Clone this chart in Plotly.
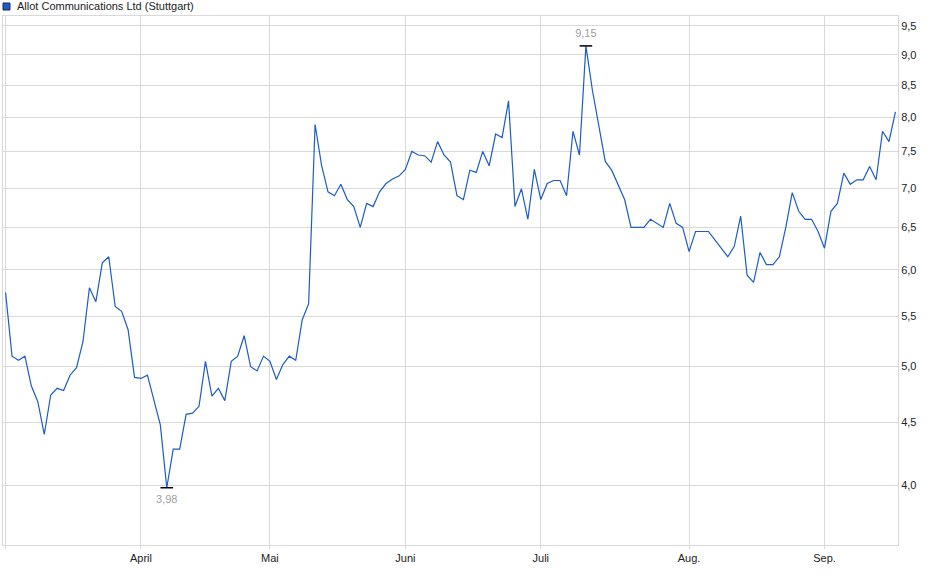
import plotly.graph_objects as go
import numpy as np

# daily closing prices, Stuttgart (one value per trading day)
prices = [
    5.75, 5.10, 5.06, 5.10, 4.82, 4.68, 4.40, 4.74, 4.80, 4.78,
    4.92, 4.99, 5.24, 5.80, 5.65, 6.08, 6.15, 5.60, 5.55, 5.36,
    4.90, 4.89, 4.92, 4.70, 4.48, 3.98, 4.28, 4.28, 4.57, 4.58,
    4.64, 5.05, 4.73, 4.80, 4.69, 5.05, 5.10, 5.30, 5.00, 4.96,
    5.10, 5.05, 4.88, 5.02, 5.10, 5.06, 5.46, 5.63, 7.89, 7.31,
    6.95, 6.90, 7.05, 6.85, 6.76, 6.50, 6.80, 6.76, 6.95, 7.06,
    7.12, 7.16, 7.25, 7.50, 7.45, 7.44, 7.35, 7.64, 7.45, 7.35,
    6.90, 6.85, 7.24, 7.21, 7.50, 7.30, 7.75, 7.70, 8.25, 6.76,
    6.99, 6.60, 7.25, 6.85, 7.06, 7.10, 7.10, 6.90, 7.79, 7.45,
    9.15, 8.42, 7.84, 7.36, 7.24, 7.04, 6.85, 6.50, 6.50, 6.50,
    6.60, 6.55, 6.50, 6.80, 6.55, 6.50, 6.21, 6.45, 6.45, 6.45,
    6.35, 6.25, 6.15, 6.27, 6.64, 5.94, 5.86, 6.20, 6.06, 6.06,
    6.15, 6.50, 6.94, 6.70, 6.60, 6.60, 6.45, 6.25, 6.70, 6.80,
    7.20, 7.05, 7.11, 7.11, 7.29, 7.11, 7.79, 7.64, 8.08,
]
days = list(range(len(prices)))

# month starts as trading-day index (first one = March, unlabeled)
monthPos = [0, 21, 41, 62, 83, 106, 127]
monthLabels = ["", "April", "Mai", "Juni", "Juli", "Aug.", "Sep."]

yTicks = [4.0, 4.5, 5.0, 5.5, 6.0, 6.5, 7.0, 7.5, 8.0, 8.5, 9.0, 9.5]

lineColor = "#1c5cc4"
gridColor = "#d9d9d9"

iMin = int(np.argmin(prices))
iMax = int(np.argmax(prices))

fig = go.Figure()

fig.add_trace(go.Scatter(
    x=days,
    y=prices,
    mode="lines",
    line=dict(color=lineColor, width=1.2),
    showlegend=False
))

# low / high markers with their values
fig.add_trace(go.Scatter(
    x=[days[iMin]],
    y=[prices[iMin]],
    mode="markers+text",
    marker=dict(symbol="line-ew", size=9, line=dict(color="black", width=1.5)),
    text=[f"{prices[iMin]:.2f}".replace(".", ",")],
    textposition="bottom center",
    textfont=dict(color="#a0a0a0", size=11),
    showlegend=False
))
fig.add_trace(go.Scatter(
    x=[days[iMax]],
    y=[prices[iMax]],
    mode="markers+text",
    marker=dict(symbol="line-ew", size=9, line=dict(color="black", width=1.5)),
    text=[f"{prices[iMax]:.2f}".replace(".", ",")],
    textposition="top center",
    textfont=dict(color="#a0a0a0", size=11),
    showlegend=False
))

# legend box + title at the top left
fig.add_shape(type="rect", xref="paper", yref="paper",
              x0=0.0, x1=0.0078, y0=1.0113, y1=1.0246,
              fillcolor=lineColor, line=dict(color="#1a2a55", width=1))
fig.add_annotation(xref="paper", yref="paper", x=0.0134, y=1.018,
                   xanchor="left", yanchor="middle", showarrow=False,
                   text="Allot Communications Ltd (Stuttgart)",
                   font=dict(size=11, color="#222222"))

fig.update_layout(
    width=940,
    height=579,
    margin=dict(l=3, r=42, t=16, b=34),
    paper_bgcolor="white",
    plot_bgcolor="white",
    separators=",.",
    font=dict(family="Liberation Sans, Arial, sans-serif", size=11, color="#222222"),
    xaxis=dict(
        range=[-0.4, len(prices) - 1 + 0.4],
        tickvals=monthPos,
        ticktext=monthLabels,
        showgrid=True,
        gridcolor=gridColor,
        gridwidth=1,
        ticks="outside",
        ticklen=3,
        tickcolor=gridColor,
        showline=True,
        linecolor=gridColor,
        mirror=True,
        zeroline=False,
        automargin=False
    ),
    yaxis=dict(
        type="log",
        range=[np.log10(3.573), np.log10(9.68)],
        side="right",
        tickvals=yTicks,
        tickformat=".1f",
        showgrid=True,
        gridcolor=gridColor,
        gridwidth=1,
        ticks="",
        showline=True,
        linecolor=gridColor,
        mirror=True,
        zeroline=False,
        automargin=False
    )
)

# page body has a default 8px margin; drop it so the chart sits at the corner
fig.write_html("out.html", config={"displayModeBar": False},
               post_script="document.body.style.margin='0';")
